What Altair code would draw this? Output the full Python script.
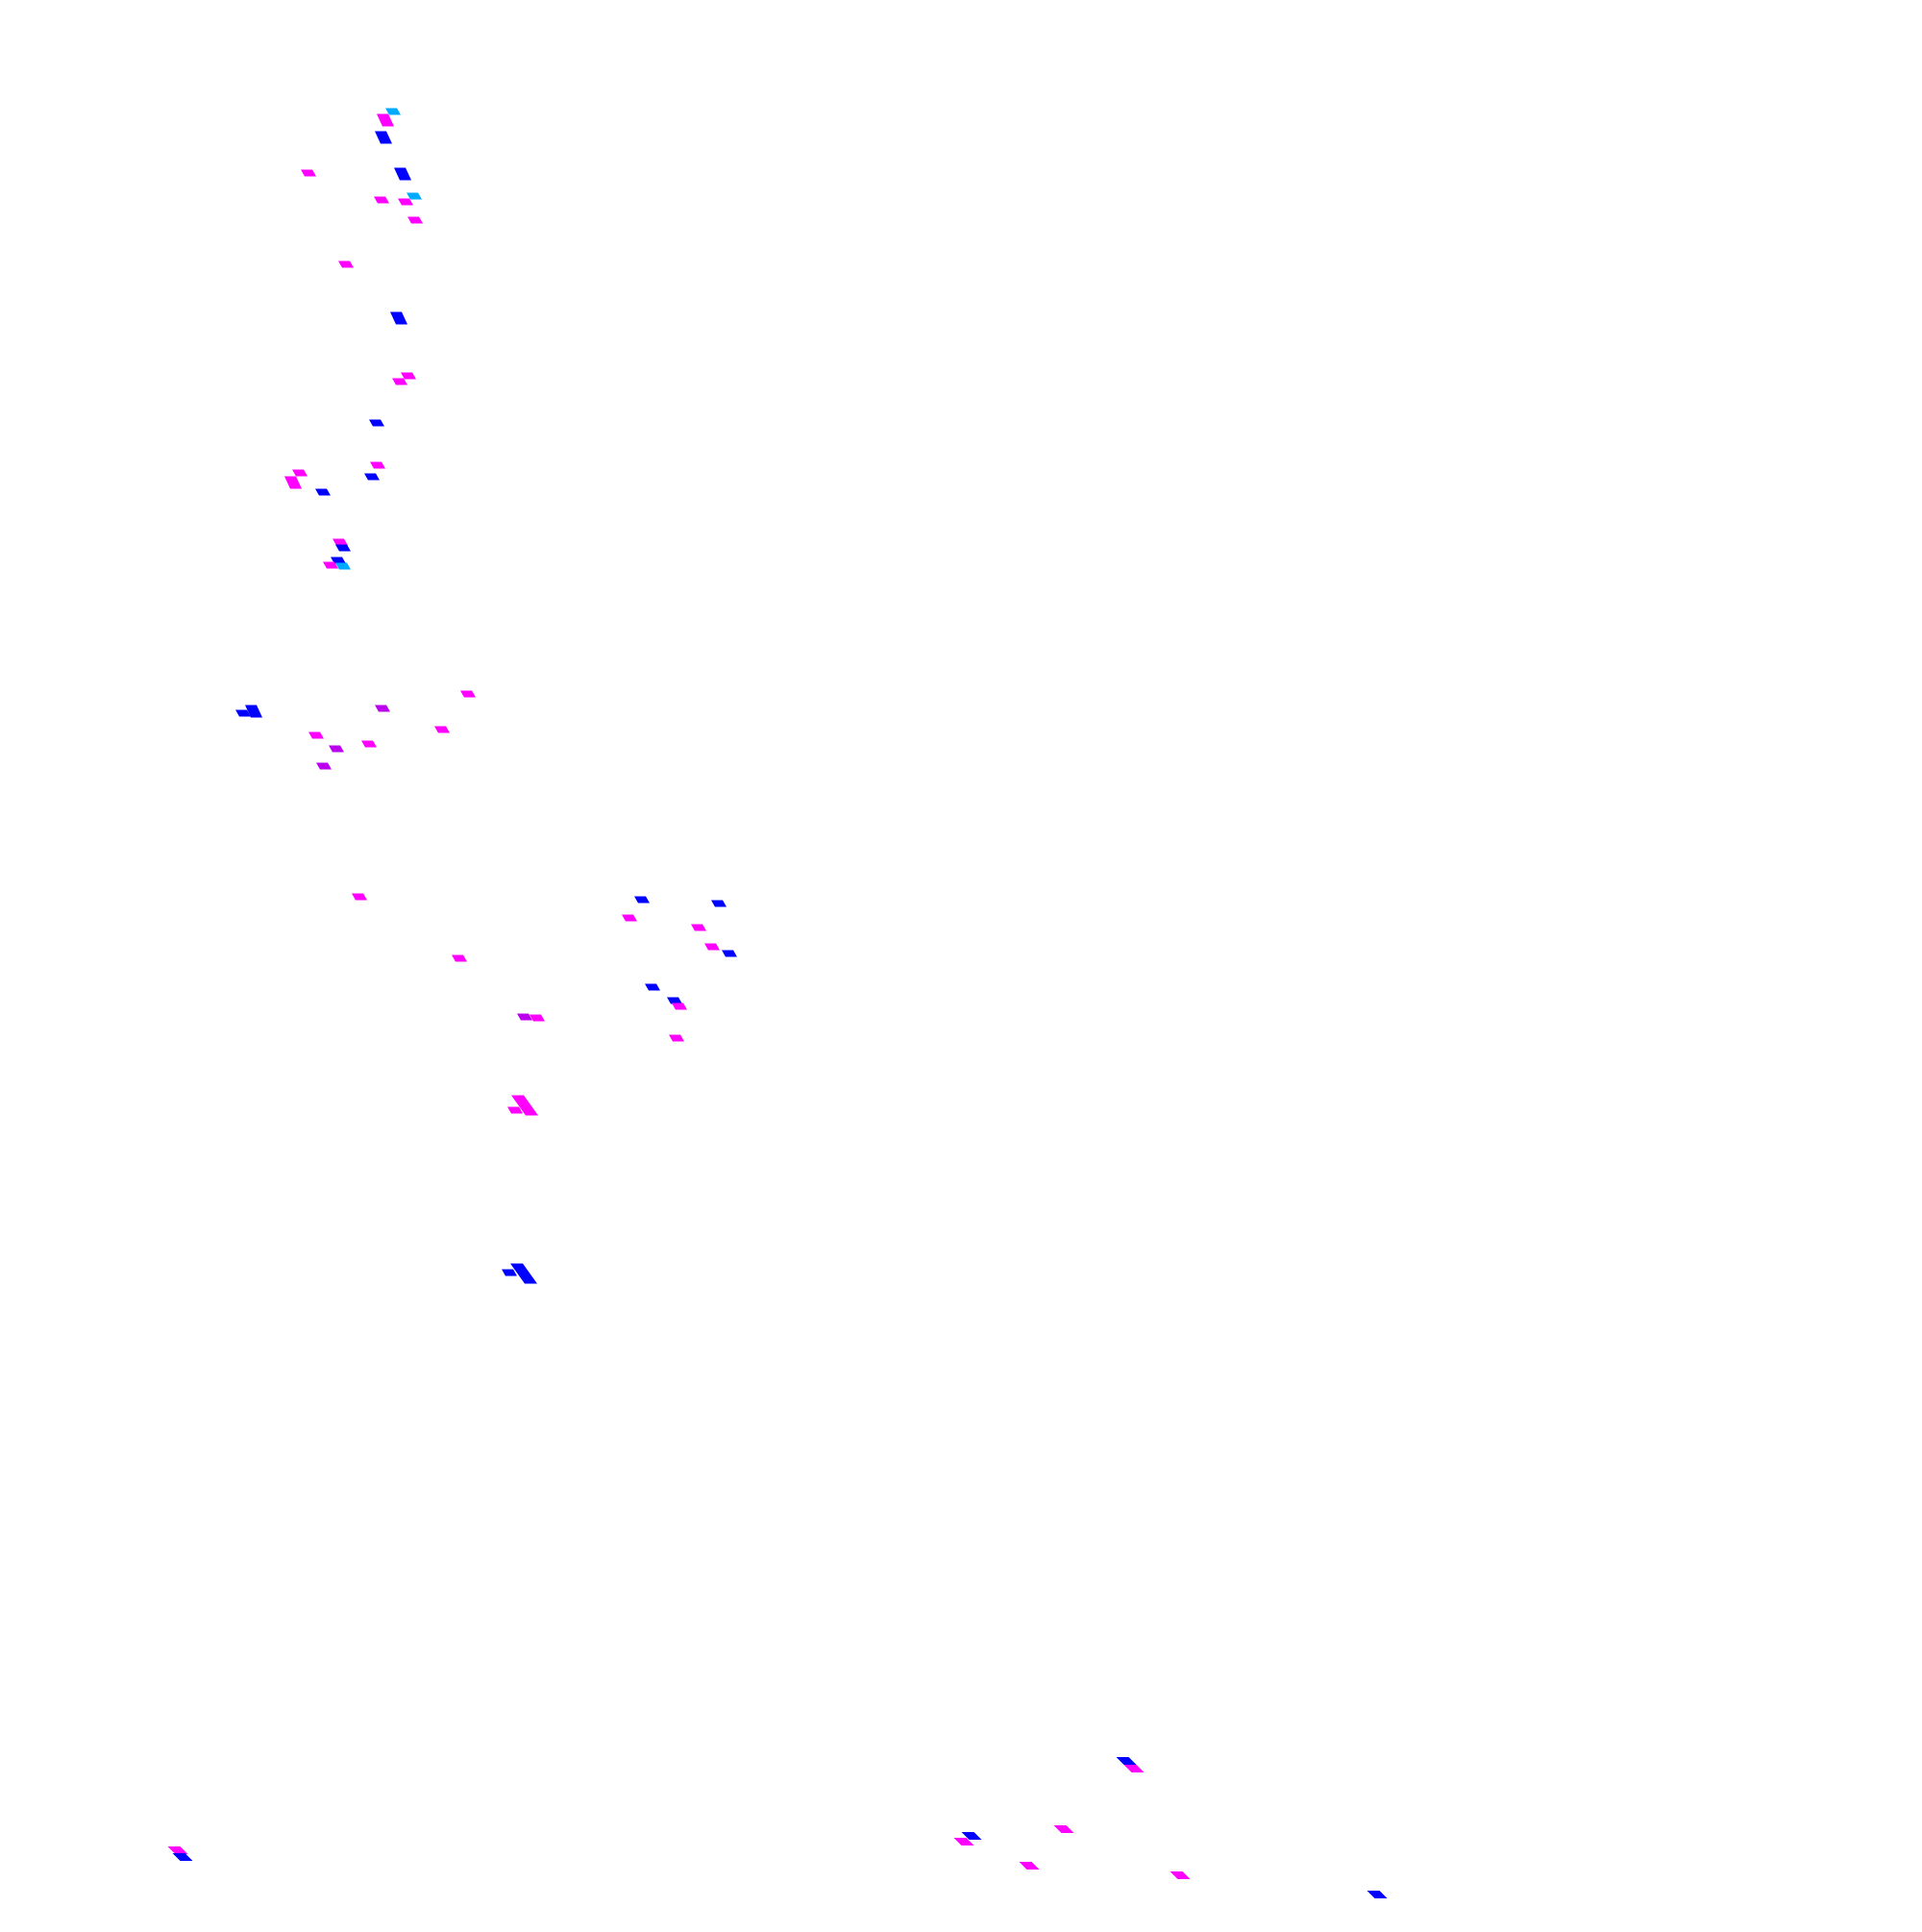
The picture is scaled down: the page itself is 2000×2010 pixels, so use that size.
import altair as alt
import pandas as pd

# values
xs = [409, 401, 399, 321, 419, 431, 397, 422, 432, 360, 415, 425, 416, 392, 393, 387, 312, 305, 336,
      354, 357, 352, 344, 357, 264, 253, 398, 487, 329, 350, 384, 460, 337, 374, 478, 668, 748, 655,
      727, 741, 759, 679, 702, 707, 704, 546, 559, 546, 536, 545, 530, 185, 190, 1172, 1180, 1107,
      1011, 1003, 1071, 1228, 1433]
ys = [116, 125, 143, 180, 181, 204, 208, 210, 229, 275, 331, 391, 397, 440, 484, 496, 492, 502, 512,
      564, 570, 583, 588, 589, 740, 742, 737, 722, 765, 779, 774, 759, 797, 933, 997, 936, 940, 955,
      965, 985, 992, 1027, 1041, 1047, 1080, 1058, 1059, 1150, 1155, 1325, 1324, 1925, 1932, 1832,
      1840, 1903, 1910, 1916, 1941, 1951, 1971]
groups = ["c", "m", "b", "m", "b", "c", "m", "m", "m", "m", "b", "m", "m", "b", "m", "b", "m", "m", "b",
          "m", "b", "b", "m", "c", "b", "b", "p", "m", "m", "p", "m", "m", "p", "m", "m", "b", "b", "m",
          "m", "m", "b", "b", "b", "m", "m", "p", "m", "m", "m", "b", "b", "m", "b", "b", "m", "m",
          "b", "m", "m", "m", "b"]
kinds = ["flat", "tall", "tall", "flat", "tall", "flat", "flat", "flat", "flat", "flat", "tall", "flat",
         "flat", "flat", "flat", "flat", "flat", "tall", "flat", "flat", "flat", "flat", "flat", "flat",
         "tall", "flat", "flat", "flat", "flat", "flat", "flat", "flat", "flat", "flat", "flat", "flat",
         "flat", "flat", "flat", "flat", "flat", "flat", "flat", "flat", "flat", "flat", "flat", "big",
         "flat", "big", "flat", "wide", "wide", "wide", "wide", "wide", "wide", "wide", "wide", "wide",
         "wide"]

group_names = ["b", "m", "c", "p"]
group_colors = ["#0000ff", "#ff00ff", "#00aaff", "#bb00ee"]
kind_names = ["flat", "tall", "wide", "big"]
kind_paths = [
    "M-0.8,-0.35 L0.4,-0.35 L0.8,0.35 L-0.4,0.35 Z",
    "M-0.9,-0.65 L0.3,-0.65 L0.9,0.65 L-0.3,0.65 Z",
    "M-1.05,-0.4 L0.25,-0.4 L1.05,0.4 L-0.25,0.4 Z",
    "M-1.4,-1.05 L-0.1,-1.05 L1.4,1.05 L0.1,1.05 Z",
]

df = pd.DataFrame({"x": xs, "y": ys, "g": groups, "k": kinds})

chart = (
    alt.Chart(df)
    .mark_point(filled=True, opacity=1, strokeWidth=0, size=400)
    .encode(
        x=alt.X("x:Q", scale=alt.Scale(domain=[8, 1992], nice=False, zero=False), axis=None),
        y=alt.Y("y:Q", scale=alt.Scale(domain=[8, 2002], nice=False, zero=False, reverse=True), axis=None),
        color=alt.Color("g:N", scale=alt.Scale(domain=group_names, range=group_colors), legend=None),
        shape=alt.Shape("k:N", scale=alt.Scale(domain=kind_names, range=kind_paths), legend=None),
    )
    .properties(width=1984, height=1994, padding=0, autosize=alt.AutoSizeParams(type="none"))
    .configure_view(stroke=None)
)

chart.save("out.html", embed_options={"renderer": "svg", "actions": False})
